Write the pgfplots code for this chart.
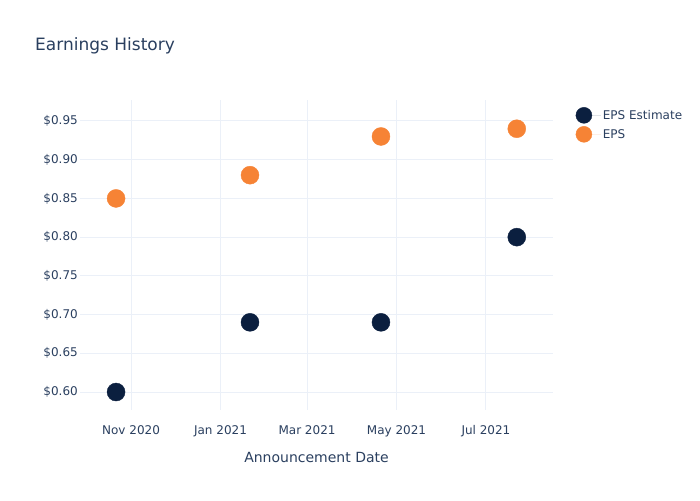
\documentclass[border=0pt]{standalone}
\usepackage{pgfplots}
\pgfplotsset{compat=1.18}
\usepackage{fontspec}
\setmainfont{DejaVu Sans}
\definecolor{txt}{HTML}{2A3F5F}
\definecolor{gridc}{HTML}{EBF0F8}
\definecolor{navy}{HTML}{0B1F3F}
\definecolor{orng}{HTML}{F68335}
\begin{document}
\begin{tikzpicture}
\path[use as bounding box] (0pt,0pt) rectangle (700pt,500pt);
\node[anchor=west, text=txt, font=\fontsize{17}{20}\selectfont, inner sep=0pt] at (35pt,454pt) {Earnings History};
\begin{axis}[at={(80pt,90pt)}, anchor=south west, scale only axis, width=473pt, height=310pt,
 xmin=-34.8, xmax=287.7, ymin=0.5768, ymax=0.9771,
 axis line style={draw=none}, tick style={draw=none},
 grid=major, major grid style={gridc, line width=1pt},
 xtick={0,61,120,181,242},
 xticklabels={Nov 2020, Jan 2021, Mar 2021, May 2021, Jul 2021},
 ytick={0.60,0.65,0.70,0.75,0.80,0.85,0.90,0.95},
 yticklabels={\$0.60,\$0.65,\$0.70,\$0.75,\$0.80,\$0.85,\$0.90,\$0.95},
 ticklabel style={font=\fontsize{12}{14}\selectfont, text=txt},
 yticklabel style={inner xsep=2pt},
 xticklabel style={yshift=-12pt},
 xlabel={Announcement Date},
 xlabel style={font=\fontsize{14}{16}\selectfont, text=txt, at={(axis description cs:0.5,0)}, anchor=center, yshift=-47pt},
 legend style={at={(1.048,0.977)}, anchor=north west, draw=none, fill=none,
   font=\fontsize{12}{14}\selectfont, text=txt, row sep=3pt, inner sep=0pt},
 legend cell align=left,
 legend image code/.code={\path (0pt,0pt) -- (25pt,0pt); \draw[#1, mark size=8pt] plot coordinates {(8pt,0pt)};},
 clip=false,
]
\addplot[only marks, mark=*, mark size=9pt, color=navy, draw=none, fill=navy] coordinates {
 (-10.2,0.60) (81.1,0.69) (170.4,0.69) (263,0.80)};
\addlegendentry{EPS Estimate}
\addplot[only marks, mark=*, mark size=9pt, color=orng, draw=none, fill=orng] coordinates {
 (-10.2,0.85) (81.1,0.88) (170.4,0.93) (263,0.94)};
\addlegendentry{EPS}
\end{axis}
\end{tikzpicture}
\end{document}
